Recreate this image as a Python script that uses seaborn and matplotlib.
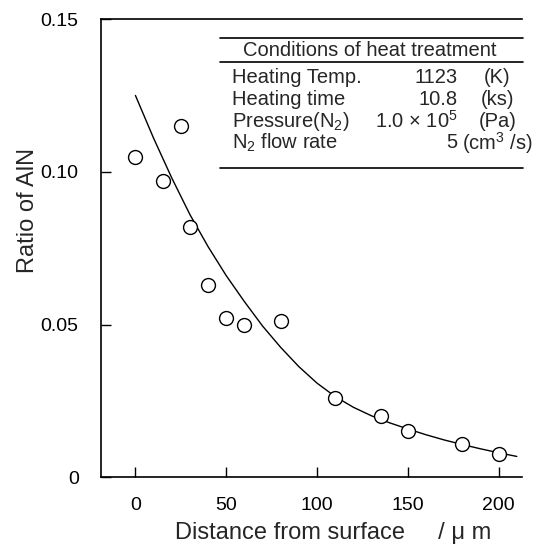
import numpy as np
import pandas as pd
import matplotlib
matplotlib.use("Agg")
import matplotlib.pyplot as plt
import seaborn as sns

# measured points
dist_um = [0, 15, 25, 30, 40, 50, 60, 80, 110, 135, 150, 180, 200]
ratio_aln = [0.105, 0.097, 0.115, 0.082, 0.063, 0.052, 0.050, 0.051,
             0.026, 0.020, 0.015, 0.011, 0.0075]

# fitted curve
curve_x = [0, 10, 20, 30, 40, 50, 60, 70, 80, 90, 100, 110, 120, 130,
           140, 150, 160, 170, 180, 190, 200, 210]
curve_y = [0.125, 0.111, 0.098, 0.086, 0.0755, 0.066, 0.0575, 0.0495,
           0.0425, 0.0362, 0.0308, 0.0264, 0.0229, 0.0201, 0.0178, 0.0158,
           0.0139, 0.0122, 0.0107, 0.0093, 0.0080, 0.0068]

# table of conditions
cond_title = "Conditions of heat treatment"
cond_names = ["Heating Temp.", "Heating time", "Pressure(N$_2$)", "N$_2$ flow rate"]
cond_values = ["1123", "10.8", "1.0 $\\times$ 10$^5$", "5"]
cond_units = ["(K)", "(ks)", "(Pa)", "(cm$^3$ /s)"]

xticks = [0, 50, 100, 150, 200]
yticks = [0, 0.05, 0.10, 0.15]
yticklabels = ["0", "0.05", "0.10", "0.15"]

sns.set_theme(style="ticks")
plt.rcParams['font.family'] = ['Liberation Sans', 'DejaVu Sans']
plt.rcParams['mathtext.default'] = 'regular'

pts = pd.DataFrame({"x": dist_um, "y": ratio_aln})
fit = pd.DataFrame({"x": curve_x, "y": curve_y})

fig = plt.figure(figsize=(5.34, 5.46), dpi=100)
ax = fig.add_axes([0.189, 0.126, 0.789, 0.839])

sns.lineplot(data=fit, x="x", y="y", ax=ax, color="black", linewidth=1.0,
             estimator=None, sort=False)
sns.scatterplot(data=pts, x="x", y="y", ax=ax, marker="o", s=100,
                facecolor="white", edgecolor="black", linewidth=1.0, zorder=3)

ax.set_xlim(-19, 213)
ax.set_ylim(0, 0.15)
ax.set_xticks(xticks)
ax.set_yticks(yticks)
ax.set_yticklabels(yticklabels)
ax.tick_params(direction="in", length=7, width=1, labelsize=14, colors="black")
ax.tick_params(axis="y", pad=16)
ax.tick_params(axis="x", pad=14)
ax.spines["right"].set_visible(False)
for s in ["left", "bottom", "top"]:
    ax.spines[s].set_linewidth(1.2)
    ax.spines[s].set_color("black")

ax.set_xlabel("Distance from surface     / \u03bc m", fontsize=17)
ax.xaxis.set_label_coords(0.55, -0.097)
ax.set_ylabel("Ratio of AlN", fontsize=17)
ax.yaxis.set_label_coords(-0.173, 0.583)
ax.yaxis.label.set_va("center")

# conditions table
tr = ax.transAxes
for ly in [0.959, 0.907, 0.675]:
    ax.plot([0.283, 1.002], [ly, ly], color="black", lw=1.2, transform=tr, clip_on=False)
ax.text(0.639, 0.931, cond_title, transform=tr, ha="center", va="center", fontsize=14.5)
row_y = [0.873, 0.824, 0.777, 0.730]
for yy, n, v, u in zip(row_y, cond_names, cond_values, cond_units):
    ax.text(0.311, yy, n, transform=tr, ha="left", va="center", fontsize=14.5)
    ax.text(0.846, yy, v, transform=tr, ha="right", va="center", fontsize=14.5)
    ax.text(0.941, yy, u, transform=tr, ha="center", va="center", fontsize=14.5)

fig.savefig("out.png", dpi=100)
